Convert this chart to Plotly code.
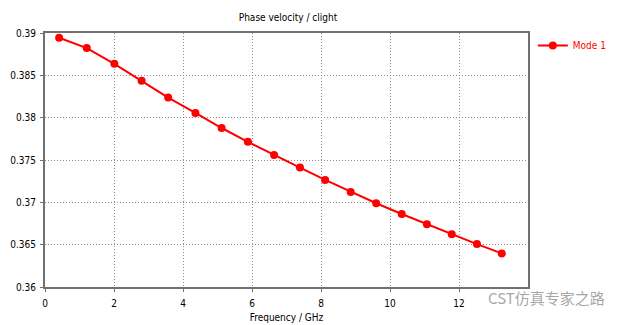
import plotly.graph_objects as go

freq_ghz = [0.41, 1.21, 2.01, 2.80, 3.57, 4.36, 5.12, 5.88, 6.64, 7.39,
            8.12, 8.86, 9.60, 10.34, 11.07, 11.79, 12.52, 13.24]
phase_vel = [0.38944, 0.38822, 0.38636, 0.38435, 0.38237, 0.38056, 0.37878,
             0.37715, 0.37558, 0.37410, 0.37265, 0.37123, 0.36989, 0.36862,
             0.36740, 0.36622, 0.36507, 0.36397]
x_ticks = [0, 2, 4, 6, 8, 10, 12]
y_ticks = [0.36, 0.365, 0.37, 0.375, 0.38, 0.385, 0.39]
y_ticktext = ["0.36", "0.365", "0.37", "0.375", "0.38", "0.385", "0.39"]

FONT = "DejaVu Sans Condensed, DejaVu Sans, sans-serif"
TXT = "#000000"

fig = go.Figure()
fig.add_trace(go.Scatter(
    x=freq_ghz, y=phase_vel, mode="lines+markers", name="Mode 1",
    line=dict(color="#ff0000", width=2),
    marker=dict(color="#ff0000", size=8),
))

axis_common = dict(
    showgrid=True, gridcolor="#8c8c8c", griddash="1px,2px", gridwidth=1,
    showline=True, linecolor="#707070", linewidth=2, mirror=True,
    ticks="outside", ticklen=3, tickcolor="#707070",
    tickfont=dict(family=FONT, size=10, color=TXT),
    zeroline=False, automargin=False,
)

fig.update_layout(
    width=624, height=325,
    margin=dict(l=45, r=96, t=33, b=38),
    paper_bgcolor="white", plot_bgcolor="white",
    font=dict(family=FONT, size=10, color=TXT),
    title=dict(text="Phase velocity / clight", x=(288 - 0) / 624, xanchor="center",
               y=1 - 17 / 325, yanchor="middle",
               font=dict(family=FONT, size=10, color=TXT)),
    showlegend=True,
    legend=dict(x=1.01, y=1.0 + 2 / 254, xanchor="left", yanchor="top",
                font=dict(family=FONT, size=10, color="#ff0000"),
                bgcolor="rgba(0,0,0,0)", itemwidth=30),
    xaxis=dict(range=[0, 14], tickvals=x_ticks, ticklabelstandoff=3,
               title=dict(text="Frequency / GHz", standoff=6,
                          font=dict(family=FONT, size=10, color=TXT)),
               **axis_common),
    yaxis=dict(range=[0.36, 0.39], tickvals=y_ticks, ticktext=y_ticktext,
               ticklabelstandoff=2, **axis_common),
)

fig.add_annotation(
    text="CST仿真专家之路", xref="paper", yref="paper",
    x=(486 - 45) / 483, y=-(297 - 287) / 254, xanchor="left", yanchor="middle",
    showarrow=False,
    font=dict(family="Noto Sans CJK SC", size=15, color="rgba(150,150,150,0.85)"),
)

fig.write_html("out.html")
